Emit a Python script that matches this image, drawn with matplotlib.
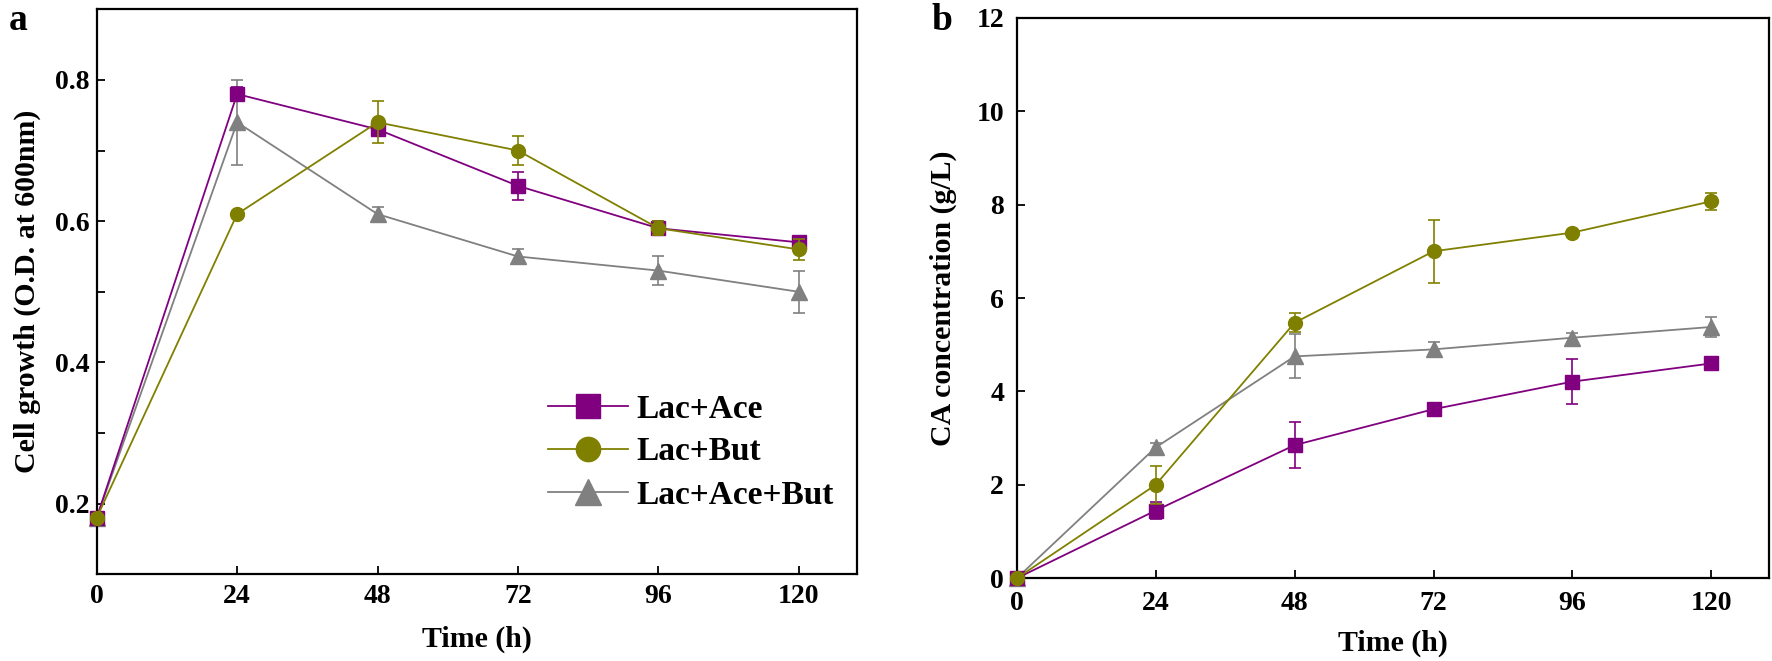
import matplotlib
matplotlib.use("Agg")
import matplotlib.pyplot as plt
from matplotlib.ticker import MultipleLocator
from matplotlib.lines import Line2D

# ---- data ----
time_h = [0, 24, 48, 72, 96, 120]
series_names = ["Lac+Ace", "Lac+But", "Lac+Ace+But"]

growth_lac_ace = [0.18, 0.78, 0.73, 0.65, 0.59, 0.57]
growth_lac_ace_err = [0.005, 0.01, 0.01, 0.02, 0.01, 0.005]
growth_lac_but = [0.18, 0.61, 0.74, 0.70, 0.59, 0.56]
growth_lac_but_err = [0.005, 0.005, 0.03, 0.02, 0.01, 0.015]
growth_lac_ace_but = [0.18, 0.74, 0.61, 0.55, 0.53, 0.50]
growth_lac_ace_but_err = [0.005, 0.06, 0.01, 0.01, 0.02, 0.03]

ca_lac_ace = [0.0, 1.45, 2.85, 3.62, 4.21, 4.60]
ca_lac_ace_err = [0.0, 0.18, 0.49, 0.07, 0.48, 0.12]
ca_lac_but = [0.0, 2.0, 5.47, 7.0, 7.4, 8.07]
ca_lac_but_err = [0.0, 0.40, 0.20, 0.68, 0.05, 0.18]
ca_lac_ace_but = [0.0, 2.8, 4.75, 4.9, 5.15, 5.38]
ca_lac_ace_but_err = [0.0, 0.10, 0.47, 0.15, 0.10, 0.21]

colors = ["#800080", "#808000", "#808080"]
markers = ["s", "o", "^"]
msizes = [9.5, 10, 11]
zorders = [3, 4, 2]

plt.rcParams["font.family"] = ["Liberation Serif", "DejaVu Serif"]
plt.rcParams["font.weight"] = "bold"
plt.rcParams["axes.labelweight"] = "bold"

fig = plt.figure(figsize=(17.72, 6.61), dpi=100)
W, H = 1772, 661

def axes_px(l, t, r, b):
    return fig.add_axes([l / W, 1 - b / H, (r - l) / W, (b - t) / H])

ax_a = axes_px(96.7, 9.3, 857.3, 574.3)
ax_b = axes_px(1016.7, 17.7, 1769.3, 578.3)

def draw(ax, ys, errs):
    for y, e, c, m, ms, z, name in zip(ys, errs, colors, markers, msizes, zorders, series_names):
        ax.errorbar(time_h, y, yerr=e, color=c, marker=m, markersize=ms,
                    linewidth=1.3, elinewidth=1.2, capsize=4, capthick=1.2,
                    label=name, zorder=z, clip_on=False)
    ax.set_xlim(0, 130)
    ax.set_xticks(time_h)
    for s in ax.spines.values():
        s.set_linewidth(1.6)
    ax.tick_params(direction="in", length=6, width=1.3, labelsize=20)
    for lab in ax.get_xticklabels() + ax.get_yticklabels():
        lab.set_fontweight("bold")

draw(ax_a, [growth_lac_ace, growth_lac_but, growth_lac_ace_but],
     [growth_lac_ace_err, growth_lac_but_err, growth_lac_ace_but_err])
ax_a.set_ylim(0.1, 0.9)
ax_a.set_yticks([0.2, 0.4, 0.6, 0.8])
ax_a.yaxis.set_minor_locator(MultipleLocator(0.1))
ax_a.tick_params(axis="y", which="minor", direction="in", length=6, width=1.3)
ax_a.tick_params(axis="x", pad=7)
ax_a.tick_params(axis="y", pad=5)
ax_a.set_xlabel("Time (h)", fontsize=21.5, fontweight="bold", labelpad=12)
ax_a.set_ylabel("Cell growth (O.D. at 600nm)", fontsize=21.5, fontweight="bold", labelpad=10)

draw(ax_b, [ca_lac_ace, ca_lac_but, ca_lac_ace_but],
     [ca_lac_ace_err, ca_lac_but_err, ca_lac_ace_but_err])
ax_b.set_ylim(0, 12)
ax_b.set_yticks([0, 2, 4, 6, 8, 10, 12])
ax_b.tick_params(axis="x", pad=9)
ax_b.tick_params(axis="y", pad=9)
ax_b.set_xlabel("Time (h)", fontsize=21.5, fontweight="bold", labelpad=10)
ax_b.set_ylabel("CA concentration (g/L)", fontsize=21.5, fontweight="bold", labelpad=14)

leg_handles = [Line2D([], [], color=c, marker=m, markersize=ms * 1.75, linewidth=1.3)
               for c, m, ms in zip(colors, markers, msizes)]
leg = ax_a.legend(handles=leg_handles, labels=series_names, loc="center left",
                  bbox_to_anchor=(548 / W, 1 - 452 / H), bbox_transform=fig.transFigure,
                  frameon=False, fontsize=24, handlelength=2.4,
                  handletextpad=0.25, labelspacing=0.36, borderpad=0, borderaxespad=0)
for t in leg.get_texts():
    t.set_fontweight("bold")

fig.text(18 / W, 1 - 20 / H, "a", fontsize=27, fontweight="bold", ha="center", va="center")
fig.text(942 / W, 1 - 20 / H, "b", fontsize=27, fontweight="bold", ha="center", va="center")

fig.savefig("out.png", dpi=100)
